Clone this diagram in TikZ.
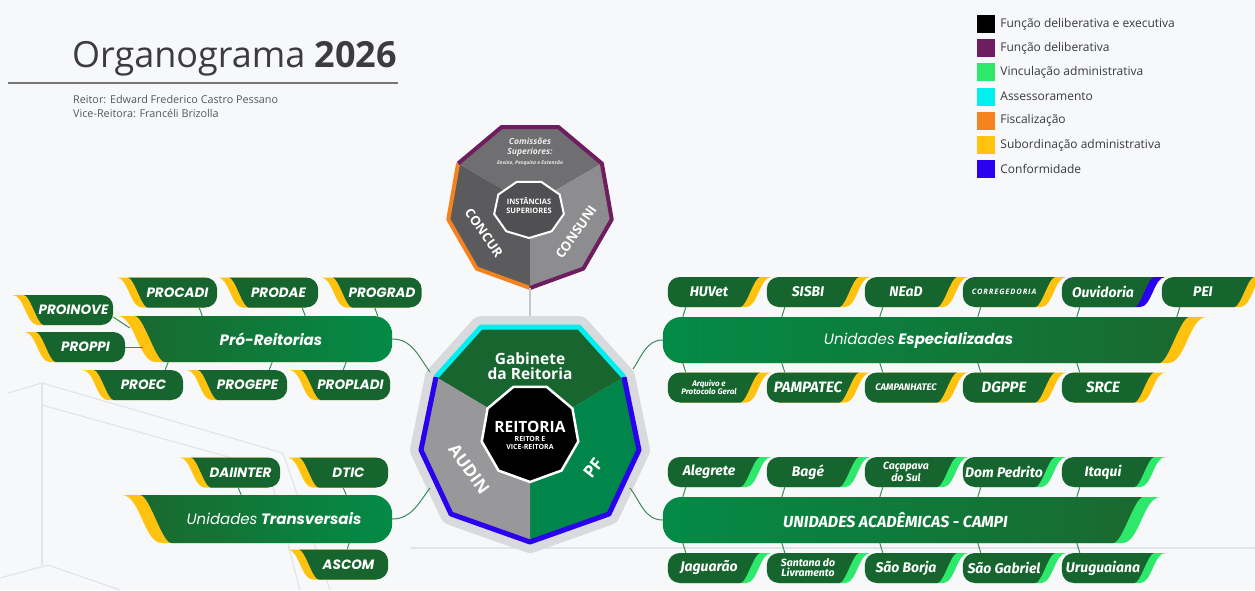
\documentclass[tikz,border=0pt]{standalone}
\usepackage{fontspec}
\setmainfont{Open Sans}
\newfontfamily\popfont{Poppins}
\newfontfamily\firafont{Fira Sans}
\usetikzlibrary{positioning,calc}

\definecolor{pagebg}{HTML}{F7F8FA}
\definecolor{boxgreen}{HTML}{16652E}
\definecolor{bardark}{HTML}{1A692F}
\definecolor{barbright}{HTML}{038B46}
\definecolor{accyellow}{HTML}{FFC20E}
\definecolor{accgreen}{HTML}{2EE86B}
\definecolor{accblue}{HTML}{2B00F0}
\definecolor{acccyan}{HTML}{00F0F0}
\definecolor{accorange}{HTML}{F5821F}
\definecolor{accpurple}{HTML}{6E1D5F}
\definecolor{linkgreen}{HTML}{3C8C5A}
\definecolor{halo}{HTML}{D9DADD}
\definecolor{gabgreen}{HTML}{18652F}
\definecolor{pfgreen}{HTML}{00854A}
\definecolor{audingray}{HTML}{98989B}
\definecolor{instmid}{HTML}{6F6F71}
\definecolor{instdark}{HTML}{5B5B5E}
\definecolor{instlight}{HTML}{8D8D90}
\definecolor{instcore}{HTML}{505053}
\definecolor{titlegray}{HTML}{3C3C3E}
\definecolor{subgray}{HTML}{55575A}
\definecolor{legtext}{HTML}{3A3A3C}
\definecolor{decoline}{HTML}{E3E4E7}

\pgfdeclarelayer{back}
\pgfdeclarelayer{deco}
\pgfsetlayers{back,deco,main}

% swoosh boxes: #1 node, #2 accent colour, #3 body options, #4 half height
\newcommand\leftsw[4]{%
  \pgfmathsetmacro\swh{#4}%
  \pgfmathsetmacro\sws{0.65*#4}%
  \pgfmathsetmacro\swo{1.4*#4}%
  \pgfmathsetmacro\swi{0.25*#4}%
  \pgfmathsetmacro\swc{0.45*1.65*#4}%
  \pgfmathsetmacro\swr{0.8*#4}%
  \fill[#2] let \p1=(#1.west), \p2=(#1.east) in
    (\x1-\swo,\y1+\swh) .. controls (\x1-\swo+\swc,\y1+\swh) and (\x1+\swi-\swc,\y1-\swh) .. (\x1+\swi,\y1-\swh)
    -- (\x2-\swr,\y1-\swh) -- (\x2-\swr,\y1+\swh) -- cycle;
  \path[#3] let \p1=(#1.west), \p2=(#1.east) in
    (\x1-\sws,\y1+\swh) .. controls (\x1-0.4*\sws,\y1+\swh) and (\x1+0.4*\sws,\y1-\swh) .. (\x1+\sws,\y1-\swh)
    -- (\x2-\swr,\y1-\swh) arc[start angle=-90,end angle=0,radius=\swr]
    -- (\x2,\y1+\swh-\swr) arc[start angle=0,end angle=90,radius=\swr] -- cycle;
}
\newcommand\rightsw[4]{%
  \pgfmathsetmacro\swh{#4}%
  \pgfmathsetmacro\sws{0.65*#4}%
  \pgfmathsetmacro\swo{1.4*#4}%
  \pgfmathsetmacro\swi{0.25*#4}%
  \pgfmathsetmacro\swc{0.45*1.65*#4}%
  \pgfmathsetmacro\swr{0.8*#4}%
  \fill[#2] let \p1=(#1.west), \p2=(#1.east) in
    (\x2+\swo,\y2+\swh) .. controls (\x2+\swo-\swc,\y2+\swh) and (\x2-\swi+\swc,\y2-\swh) .. (\x2-\swi,\y2-\swh)
    -- (\x1+\swr,\y2-\swh) -- (\x1+\swr,\y2+\swh) -- cycle;
  \path[#3] let \p1=(#1.west), \p2=(#1.east) in
    (\x2+\sws,\y2+\swh) .. controls (\x2+0.4*\sws,\y2+\swh) and (\x2-0.4*\sws,\y2-\swh) .. (\x2-\sws,\y2-\swh)
    -- (\x1+\swr,\y2-\swh) arc[start angle=270,end angle=180,radius=\swr]
    -- (\x1,\y2+\swh-\swr) arc[start angle=180,end angle=90,radius=\swr] -- cycle;
}

\begin{document}
\begin{tikzpicture}[x=1pt, y=1pt,
    lbox/.style={minimum width=79pt, minimum height=30pt, inner sep=0pt, text=white,
      font=\popfont\bfseries\itshape\fontsize{13.5}{14}\selectfont},
    rbox/.style={minimum width=82pt, minimum height=30pt, inner sep=0pt, text=white, align=center,
      font=\firafont\bfseries\itshape\fontsize{14}{14}\selectfont},
    lbar/.style={minimum height=46pt, inner sep=0pt, text=white,
      font=\popfont\bfseries\itshape\fontsize{15}{16}\selectfont},
    link/.style={linkgreen, line width=1pt},
    legsq/.style={minimum size=18pt, inner sep=0pt},
    legtxt/.style={inner sep=0pt, font=\fontsize{12}{13}\selectfont, text=legtext},
    ctext/.style={text=white, inner sep=0pt, align=center}]

\useasboundingbox (0,0) rectangle (1255,-590);

\begin{pgfonlayer}{back}
  \fill[pagebg] (0,0) rectangle (1255,-590);
  \draw[decoline, line width=1.2pt] (8,-393) -- (42,-383) -- (283,-453) -- (330,-590);
  \draw[decoline, line width=1.2pt] (42,-383) -- (42,-565);
  \draw[decoline, line width=1.2pt] (42,-405) -- (268,-468) -- (300,-590);
  \draw[decoline, line width=1.2pt] (0,-578) -- (48,-565) -- (120,-590);
  \draw[decoline, line width=1.2pt] (410,-548) -- (1255,-548);
\end{pgfonlayer}

% title and legend
\node[anchor=base west, inner sep=0pt, text=titlegray, font=\fontsize{36}{40}\selectfont] (title) at (72,-67) {Organograma \textbf{2026}};
\draw[titlegray!70, line width=2.5pt] (8,-83) -- (398,-83);
\node[anchor=north west, inner sep=0pt, align=left, text=subgray, font=\fontsize{10.8}{14}\selectfont] (gestao) at (73,-95) {Reitor: Edward Frederico Castro Pessano\\Vice-Reitora: Francéli Brizolla};

\foreach \c/\t [count=\i] in {black/Função deliberativa e executiva, accpurple/Função deliberativa, accgreen/Vinculação administrativa, acccyan/Assessoramento, accorange/Fiscalização, accyellow/Subordinação administrativa, accblue/Conformidade}{
  \node[legsq, fill=\c] (leg\i) at (986,{-24-24.2*(\i-1)}) {};
  \node[legtxt, right=5pt of leg\i] {\t};
}

% instancias superiores
\begin{scope}[shift={(530,-205)}]
  \fill[instmid] (0,0) -- (30:83) -- (70:83) -- (110:83) -- (150:83) -- cycle;
  \fill[instdark] (0,0) -- (150:83) -- (190:83) -- (230:83) -- (270:83) -- cycle;
  \fill[instlight] (0,0) -- (270:83) -- (310:83) -- (350:83) -- (30:83) -- cycle;
  \draw[accorange, line width=4pt, line join=round] (150:83) -- (190:83) -- (230:83) -- (270:83);
  \draw[accpurple, line width=4pt, line join=round] (270:83) -- (310:83) -- (350:83) -- (30:83) -- (70:83) -- (110:83) -- (150:83);
  \coordinate (instB) at (270:83);
\end{scope}
\begin{scope}[shift={(529,-209)}]
  \draw[fill=instcore, draw=white, line width=2pt, xscale=1.22] (270:29) -- (310:29) -- (350:29) -- (30:29) -- (70:29) -- (110:29) -- (150:29) -- (190:29) -- (230:29) -- cycle;
\end{scope}
\node[ctext, font=\bfseries\fontsize{7.5}{9}\selectfont] (inst) at (529,-206) {INSTÂNCIAS\\SUPERIORES};
\node[ctext, text=white!92!black, font=\bfseries\itshape\fontsize{8.5}{10.5}\selectfont] (comis) at (530,-147.5) {Comissões\\Superiores:};
\node[ctext, text=white!92!black, font=\bfseries\itshape\fontsize{5}{6}\selectfont] (ensino) at (530,-163) {Ensino, Pesquisa e Extensão};
\node[ctext, rotate=-55, font=\bfseries\fontsize{13}{14}\selectfont] (concur) at (484,-233) {CONCUR};
\node[ctext, rotate=55, font=\bfseries\fontsize{13}{14}\selectfont] (consuni) at (576,-232) {CONSUNI};

% reitoria
\coordinate (v1) at (481,-327);
\coordinate (v2) at (579,-327);
\coordinate (v3) at (624,-377);
\coordinate (v4) at (639,-450);
\coordinate (v5) at (609,-514);
\coordinate (v6) at (530,-542);
\coordinate (v7) at (451,-514);
\coordinate (v8) at (421,-450);
\coordinate (v9) at (436,-377);
\coordinate (rc) at (530,-433);
\draw[halo, fill=halo, line width=22pt, line join=round] (v1) -- (v2) -- (v3) -- (v4) -- (v5) -- (v6) -- (v7) -- (v8) -- (v9) -- cycle;
\fill[gabgreen] (rc) -- (v9) -- (v1) -- (v2) -- (v3) -- cycle;
\fill[pfgreen] (rc) -- (v3) -- (v4) -- (v5) -- (v6) -- cycle;
\fill[audingray] (rc) -- (v6) -- (v7) -- (v8) -- (v9) -- cycle;
\draw[acccyan, line width=5pt, line join=round] (v9) -- (v1) -- (v2) -- (v3);
\draw[accblue, line width=5pt, line join=round] (v3) -- (v4) -- (v5) -- (v6) -- (v7) -- (v8) -- (v9);
\begin{scope}[shift={(530,-433)}]
  \draw[fill=black, draw=white, line width=2.5pt] (270:49) -- (310:49) -- (350:49) -- (30:49) -- (70:49) -- (110:49) -- (150:49) -- (190:49) -- (230:49) -- cycle;
\end{scope}
\node[ctext, font=\bfseries\fontsize{15.5}{15}\selectfont] (gab) at (530,-366) {Gabinete\\da Reitoria};
\node[ctext, font=\bfseries\fontsize{15.5}{16}\selectfont] (reit) at (530,-427) {REITORIA};
\node[ctext, font=\bfseries\fontsize{7}{8.5}\selectfont, below=3pt of reit] (reitsub) {REITOR E\\VICE-REITORA};
\node[ctext, rotate=-54, font=\bfseries\fontsize{17}{18}\selectfont] (audin) at (469,-469) {AUDIN};
\node[ctext, rotate=52, font=\bfseries\fontsize{17}{18}\selectfont] (pf) at (593,-468) {PF};
\coordinate (reitT) at (530,-316);
\draw[gray!45, line width=1.2pt] (instB) -- (reitT);

% pro-reitorias
\node[lbox] (procadi) at (177.5,-292.5) {PROCADI};
\node[lbox] (prodae) at (278.5,-292.5) {PRODAE};
\node[lbox] (prograd) at (382,-292.5) {PROGRAD};
\node[lbox] (proinove) at (73.5,-310) {PROINOVE};
\node[lbox] (proppi) at (85.5,-347) {PROPPI};
\node[lbox] (proec) at (143.5,-385) {PROEC};
\node[lbox] (progepe) at (247.5,-385) {PROGEPE};
\node[lbox] (propladi) at (350.5,-385) {PROPLADI};
\node[lbar, minimum width=242pt] (prore) at (271,-339) {Pró-Reitorias};

% unidades transversais
\node[lbox] (daiinter) at (240.5,-472.5) {DAIINTER};
\node[lbox] (dtic) at (348.5,-472.5) {DTIC};
\node[lbox] (ascom) at (348.5,-564.5) {ASCOM};
\node[lbar, minimum width=236pt, minimum height=48pt] (transv) at (274,-519) {{\mdseries Unidades} Transversais};

% unidades especializadas
\node[rbox] (huvet) at (709,-292) {HUVet};
\node[rbox] (sisbi) at (808,-292) {SISBI};
\node[rbox] (nead) at (906,-292) {NEaD};
\node[rbox, font=\bfseries\itshape\fontsize{7.5}{8}\selectfont\addfontfeatures{LetterSpace=12}] (correg) at (1004,-292) {CORREGEDORIA};
\node[rbox] (ouvid) at (1103,-292) {Ouvidoria};
\node[rbox] (pei) at (1203,-292) {PEI};
\node[rbox, font=\firafont\bfseries\itshape\fontsize{8}{8.5}\selectfont] (arquivo) at (709,-387.5) {Arquivo e\\Protocolo Geral};
\node[rbox, font=\firafont\bfseries\itshape\fontsize{15}{15}\selectfont] (pampatec) at (808,-387.5) {PAMPATEC};
\node[rbox, font=\firafont\bfseries\itshape\fontsize{9.5}{10}\selectfont] (campanhatec) at (906,-387.5) {CAMPANHATEC};
\node[rbox, font=\firafont\bfseries\itshape\fontsize{15}{15}\selectfont] (dgppe) at (1004,-387.5) {DGPPE};
\node[rbox, font=\firafont\bfseries\itshape\fontsize{15}{15}\selectfont] (srce) at (1103,-387.5) {SRCE};
\node[lbar, minimum width=511pt] (espec) at (918.5,-340) {{\mdseries Unidades} Especializadas};

% campi
\node[rbox] (alegrete) at (709,-472) {Alegrete};
\node[rbox] (bage) at (808,-472) {Bagé};
\node[rbox, font=\firafont\bfseries\itshape\fontsize{10.5}{10}\selectfont] (cacapava) at (906,-472) {Caçapava\\do Sul};
\node[rbox] (dompedrito) at (1004,-472) {Dom Pedrito};
\node[rbox] (itaqui) at (1103,-472) {Itaqui};
\node[rbox] (jaguarao) at (709,-568) {Jaguarão};
\node[rbox, font=\firafont\bfseries\itshape\fontsize{10.5}{10}\selectfont] (santana) at (808,-568) {Santana do\\Livramento};
\node[rbox] (saoborja) at (906,-568) {São Borja};
\node[rbox] (saogabriel) at (1004,-568) {São Gabriel};
\node[rbox] (uruguaiana) at (1103,-568) {Uruguaiana};
\node[lbar, minimum width=465pt, font=\firafont\bfseries\itshape\fontsize{16}{16}\selectfont] (campi) at (895.5,-520) {UNIDADES ACADÊMICAS - CAMPI};

\begin{pgfonlayer}{deco}
  \foreach \nd in {procadi,prodae,prograd,proinove,proppi,proec,progepe,propladi,daiinter,dtic,ascom}
    {\leftsw{\nd}{accyellow}{fill=boxgreen}{15}}
  \leftsw{prore}{accyellow}{left color=bardark,right color=barbright}{23}
  \leftsw{transv}{accyellow}{left color=bardark,right color=barbright}{24}
  \foreach \nd in {huvet,sisbi,nead,correg,pei,arquivo,pampatec,campanhatec,dgppe,srce}
    {\rightsw{\nd}{accyellow}{fill=boxgreen}{15}}
  \rightsw{ouvid}{accblue}{fill=boxgreen}{15}
  \rightsw{espec}{accyellow}{left color=barbright,right color=bardark}{23}
  \foreach \nd in {alegrete,bage,cacapava,dompedrito,itaqui,jaguarao,santana,saoborja,saogabriel,uruguaiana}
    {\rightsw{\nd}{accgreen}{fill=boxgreen}{15}}
  \rightsw{campi}{accgreen}{left color=barbright,right color=bardark}{23}
\end{pgfonlayer}

% links
\foreach \nd/\d in {procadi/18,prodae/16,prograd/47}
  \draw[link] ([xshift=-\d]\nd.south east) -- ([xshift={-\d+3}]\nd.south east |- prore.north);
\foreach \nd/\d in {proec/18,progepe/18,propladi/47}
  \draw[link] ([xshift={-\d+3}]\nd.north east |- prore.south) -- ([xshift=-\d]\nd.north east);
\draw[link] ([yshift=-7]proinove.east) -- ([xshift=-20,yshift=11]prore.west);
\draw[link] (proppi.east) -- ([xshift=-7]prore.west |- proppi.east);
\foreach \nd/\d in {daiinter/42,dtic/45}
  \draw[link] ([xshift=-\d]\nd.south east) -- ([xshift={-\d+3}]\nd.south east |- transv.north);
\draw[link] ([xshift=-39]ascom.north east |- transv.south) -- ([xshift=-41]ascom.north east);
\foreach \nd in {huvet,sisbi,nead,correg,ouvid,pei}
  \draw[link] ([xshift=18]\nd.south west) -- ([xshift=15]\nd.south west |- espec.north);
\foreach \nd in {arquivo,pampatec,campanhatec,dgppe,srce}
  \draw[link] ([xshift=15]\nd.north west |- espec.south) -- ([xshift=18]\nd.north west);
\foreach \nd in {alegrete,bage,cacapava,dompedrito,itaqui}
  \draw[link] ([xshift=18]\nd.south west) -- ([xshift=15]\nd.south west |- campi.north);
\foreach \nd in {jaguarao,santana,saoborja,saogabriel,uruguaiana}
  \draw[link] ([xshift=15]\nd.north west |- campi.south) -- ([xshift=18]\nd.north west);

\coordinate (gabL) at (430,-372);
\coordinate (gabR) at (633,-369);
\coordinate (audL) at (430,-488);
\coordinate (pfR) at (630,-488);
\draw[link] (prore.east) to[out=0,in=126] (gabL);
\draw[link] (espec.west) to[out=180,in=56] (gabR);
\draw[link] (transv.east) to[out=0,in=233] (audL);
\draw[link] (campi.west) to[out=180,in=307] (pfR);
\end{tikzpicture}
\end{document}
